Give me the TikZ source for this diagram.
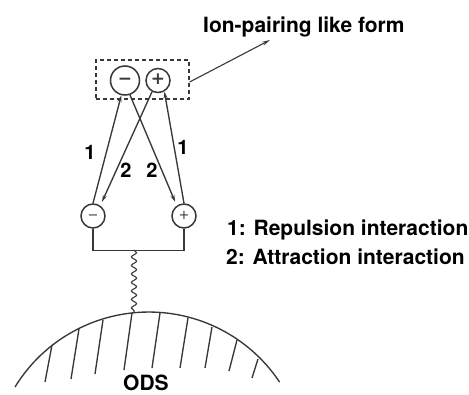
\documentclass[tikz,border=0pt]{standalone}
\usepackage{fontspec}
\setmainfont{TeX Gyre Heros}
\newfontfamily\signfont{DejaVu Sans}
\usetikzlibrary{arrows.meta,decorations.pathmorphing}
\definecolor{linec}{HTML}{383838}
\begin{document}
\begin{tikzpicture}[x=1pt,y=-1pt,
  ln/.style={draw=linec, line width=1.35pt},
  circ/.style={circle, draw=linec, line width=1.5pt, inner sep=0pt, text=linec,
               text height=0.72em, text depth=0pt},
  bigsign/.style={font=\fontsize{17}{17}\signfont\bfseries},
  smallsign/.style={font=\fontsize{13}{13}\signfont},
  arr/.style={ln, -{Stealth[length=7pt,width=4pt]}},
  lbl/.style={font=\fontsize{21}{25}\selectfont\bfseries, inner sep=0pt, anchor=base west},
  num/.style={font=\fontsize{20}{24}\selectfont\bfseries, inner sep=0pt, anchor=base}]
\useasboundingbox[fill=white] (0,0) rectangle (469,395);

% dashed box and top ions
\node[draw=linec, line width=1.3pt, dash pattern=on 4pt off 3pt,
      minimum width=93pt, minimum height=39pt, inner sep=0pt] (box) at (142.5,79.5) {};
\node[circ, bigsign, minimum size=29pt] (tm) at (125,80.5) {−};
\node[circ, bigsign, minimum size=24pt] (tp) at (158,80.5) {+};

% bottom ions
\node[circ, smallsign, minimum size=24pt] (bm) at (93,216) {−};
\node[circ, smallsign, minimum size=24pt] (bp) at (184,216) {+};

% pointer to label
\coordinate (ptip) at (270,40);
\draw[draw=linec, line width=1.1pt, -{Stealth[length=8pt,width=4pt]}] ([yshift=-2.5pt]box.east) -- (ptip);
\node[lbl] (title) at (203,33) {Ion-pairing like form};

% interaction arrows
\draw[arr] (bm.90) -- (tm.-104);
\draw[arr] (bp.90) -- (tp.-60);
\draw[arr, shorten >=4pt] (tm.-71) -- (bp.125);
\draw[arr, shorten >=4pt] (tp.-118) -- (bm.55);

\node[num] (n1l) at (90,160) {1};
\node[num] (n2l) at (126,178) {2};
\node[num] (n2r) at (152,178) {2};
\node[num] (n1r) at (183,155) {1};

% linker
\draw[ln] (bm.south) -- ++(0,22) -| (bp.south);
\coordinate (ws) at (134,250);
\coordinate (we) at (134,312);
\draw[ln, line width=1.1pt, decorate, decoration={snake, segment length=8.5pt, amplitude=2.6pt}] (ws) -- (we);

% surface
\draw[ln] (15,387) arc[start angle=211.5, end angle=326.4, radius=157];
\foreach \xa/\ya/\xb/\yb in {52/345/45/382, 79/329/71/379, 103/320/95/374,
  132/313/124/370, 160/313/152/368, 188/318/180/368, 212/327/205/368,
  237/340/229/371, 258/359/252/378}
  \draw[ln] (\xa,\ya) -- (\xb,\yb);
\node[lbl] (ods) at (123,391) {ODS};

% legend
\node[lbl] (leg1) at (227,236) {1: Repulsion interaction};
\node[lbl] (leg2) at (226,265) {2: Attraction interaction};
\end{tikzpicture}
\end{document}
